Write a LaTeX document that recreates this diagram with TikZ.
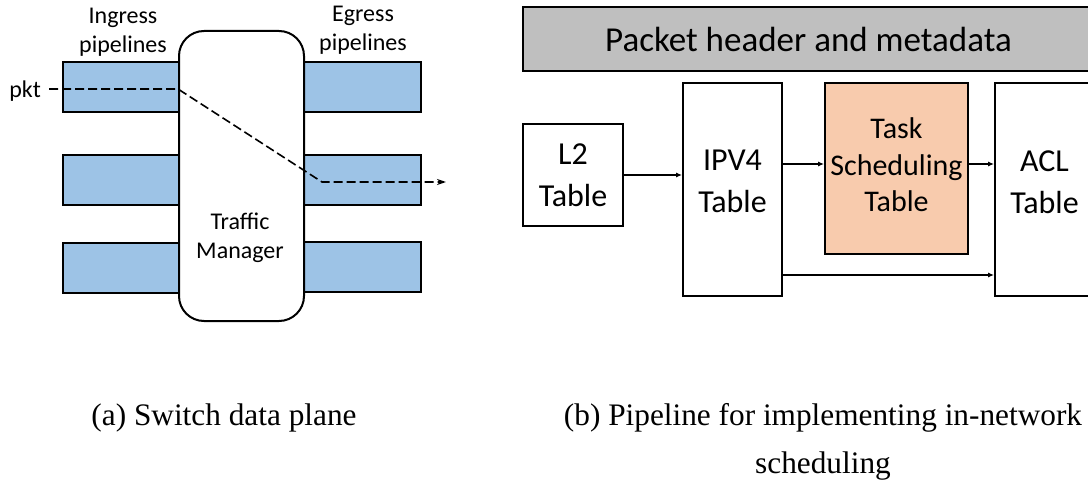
\documentclass[tikz,border=0pt]{standalone}
\usepackage{fontspec}
\setmainfont{Carlito}
\newfontfamily\capfont{Liberation Serif}
\usetikzlibrary{arrows.meta}
\definecolor{pipeblue}{HTML}{9DC3E6}
\definecolor{taskfill}{HTML}{F8CBAD}
\definecolor{hdrgray}{HTML}{BFBFBF}

\begin{document}
\begin{tikzpicture}[x=1pt,y=-1pt,
  pipe/.style={draw=black, fill=pipeblue, line width=2pt, inner sep=0pt,
    minimum width=116pt, minimum height=50pt},
  tmbox/.style={draw=black, fill=white, line width=2pt, rounded corners=25pt,
    inner sep=0pt, minimum width=125pt, minimum height=290pt},
  tbl/.style={draw=black, fill=white, line width=1.8pt, inner sep=0pt, align=center},
  lbl/.style={inner sep=0pt, align=center},
  flow/.style={line width=1.5pt, -{Latex[length=6pt,width=5pt]}},
  pktpath/.style={line width=1.6pt, dash pattern=on 9pt off 4pt,
    -{Stealth[length=9pt,width=6pt,inset=3pt]}},
  small/.style={font=\fontsize{24}{29}\selectfont},
  big/.style={font=\fontsize{32}{42}\selectfont},
  task/.style={font=\fontsize{30}{36.5}\selectfont},
  captext/.style={inner sep=0pt, align=center, font=\capfont\fontsize{31.3}{48}\selectfont}]
\useasboundingbox (0,0) rectangle (1088,492);
\clip (0,0) rectangle (1088,492);

% ---- (a) switch data plane ----
\node[pipe] (in1) at (121,87) {};
\node[pipe] (in2) at (121,180.5) {};
\node[pipe] (in3) at (121,267.5) {};
\node[pipe, minimum width=117pt] (eg1) at (362.5,87) {};
\node[pipe, minimum width=117pt] (eg2) at (362.5,180) {};
\node[pipe, minimum width=117pt] (eg3) at (362.5,267) {};
\node[tmbox] (tm) at (241.5,176) {};

\node[lbl, small] (inlbl) at (123,32) {Ingress\\pipelines};
\node[lbl, small] (eglbl) at (363,30) {Egress\\pipelines};
\node[lbl, small] (tmlbl) at (240,237.5) {Traffic\\Manager};
\node[lbl, small, anchor=east] (pkt) at (41,91) {pkt};

% packet route through the switch
\coordinate (p0) at (49,89);
\coordinate (p1) at (tm.west |- p0);
\coordinate (p2) at (322,182);
\coordinate (p3) at (446,182);
\draw[pktpath] (p0) -- (p1) -- (p2) -- (p3);

\node[captext] (capa) at (224,418) {(a) Switch data plane};

% ---- (b) match-action pipeline ----
\node[draw=black, fill=hdrgray, line width=1.8pt, inner sep=0pt,
  minimum width=571pt, minimum height=64pt] (hdr) at (808.5,39) {};
\node[lbl, font=\fontsize{35}{42}\selectfont, anchor=base] (hdrtxt) at (808.5,52)
  {Packet header and metadata};

\node[tbl, big, minimum width=100pt, minimum height=102pt] (l2) at (573,175) {L2\\Table};
\node[tbl, minimum width=99pt, minimum height=213pt] (ipv4) at (732.5,189.5) {};
\node[tbl, fill=taskfill, minimum width=143pt, minimum height=171pt] (sched) at (896.5,168.5) {};
\node[tbl, minimum width=99pt, minimum height=213pt] (acl) at (1044.5,189.5) {};

\node[lbl, big] (ipv4txt) at (732.5,181.5) {IPV4\\Table};
\node[lbl, task] (schedtxt) at (896.5,165) {Task\\Scheduling\\Table};
\node[lbl, big] (acltxt) at (1044.5,182) {ACL\\Table};

\draw[flow] (l2.east) -- (ipv4.west |- l2.east);
\draw[flow] (ipv4.east |- 0,164) -- (sched.west |- 0,164);
\draw[flow] (sched.east |- 0,164) -- (acl.west |- 0,164);
\draw[flow] (ipv4.east |- 0,275) -- (acl.west |- 0,275);

\node[captext] (capb) at (823,442) {(b) Pipeline for implementing in-network\\scheduling};
\end{tikzpicture}
\end{document}
